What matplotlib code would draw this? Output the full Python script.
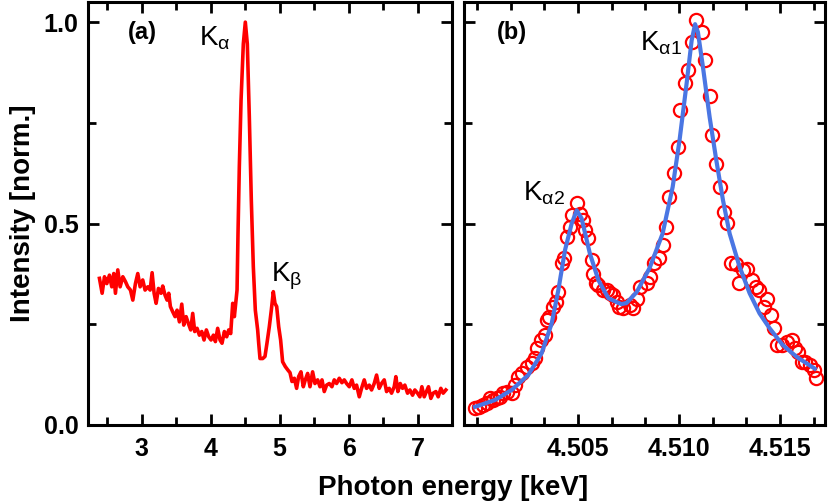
import matplotlib
matplotlib.use("Agg")
import matplotlib.pyplot as plt
from matplotlib.ticker import MultipleLocator, FormatStrFormatter, FixedLocator

plt.rcParams['font.family'] = ['Liberation Sans', 'DejaVu Sans']
plt.rcParams['mathtext.fontset'] = 'custom'
plt.rcParams['mathtext.rm'] = 'Liberation Sans'
plt.rcParams['mathtext.it'] = 'Liberation Sans'
plt.rcParams['mathtext.bf'] = 'Liberation Sans:bold'

# ---------------- panel (a): wide-range spectrum ----------------
energy_a = [2.386, 2.425, 2.459, 2.493, 2.531, 2.565, 2.594, 2.618, 2.652, 2.686,
            2.725, 2.763, 2.797, 2.836, 2.870, 2.908, 2.942, 2.976, 3.014, 3.048,
            3.087, 3.121, 3.150, 3.179, 3.208, 3.242, 3.280, 3.304, 3.338, 3.367,
            3.391, 3.415, 3.449, 3.483, 3.512, 3.546, 3.580, 3.609, 3.643, 3.676,
            3.710, 3.739, 3.768, 3.802, 3.836, 3.870, 3.903, 3.937, 3.971, 4.005,
            4.039, 4.068, 4.101, 4.135, 4.164, 4.198, 4.232, 4.261, 4.290, 4.319,
            4.343, 4.367, 4.382, 4.396, 4.415, 4.440, 4.473, 4.502, 4.531, 4.560,
            4.589, 4.618, 4.647, 4.681, 4.696, 4.715, 4.754, 4.787, 4.816, 4.850,
            4.879, 4.908, 4.932, 4.957, 4.986, 5.014, 5.043, 5.082, 5.121, 5.150,
            5.179, 5.213, 5.246, 5.275, 5.309, 5.343, 5.372, 5.406, 5.440, 5.478,
            5.512, 5.551, 5.585, 5.614, 5.647, 5.681, 5.720, 5.758, 5.792, 5.826,
            5.865, 5.903, 5.937, 5.971, 6.010, 6.048, 6.082, 6.116, 6.155, 6.188,
            6.227, 6.261, 6.300, 6.333, 6.372, 6.406, 6.444, 6.478, 6.517, 6.551,
            6.589, 6.623, 6.662, 6.686, 6.715, 6.749, 6.783, 6.816, 6.855, 6.889,
            6.928, 6.961, 7.000, 7.034, 7.063, 7.097, 7.130, 7.159, 7.193, 7.227,
            7.266, 7.300, 7.338, 7.372, 7.411]
intensity_a = [0.364, 0.327, 0.368, 0.351, 0.372, 0.343, 0.376, 0.327, 0.385, 0.343,
               0.368, 0.356, 0.343, 0.335, 0.310, 0.351, 0.376, 0.343, 0.360, 0.335,
               0.343, 0.335, 0.378, 0.327, 0.302, 0.339, 0.327, 0.345, 0.322, 0.310,
               0.327, 0.294, 0.281, 0.269, 0.285, 0.256, 0.300, 0.248, 0.269, 0.252,
               0.236, 0.277, 0.232, 0.240, 0.223, 0.232, 0.211, 0.236, 0.219, 0.211,
               0.223, 0.207, 0.240, 0.211, 0.203, 0.232, 0.219, 0.236, 0.227, 0.302,
               0.269, 0.310, 0.335, 0.476, 0.641, 0.806, 0.946, 1.000, 0.946, 0.765,
               0.558, 0.393, 0.285, 0.236, 0.203, 0.165, 0.165, 0.170, 0.203, 0.244,
               0.285, 0.331, 0.302, 0.294, 0.244, 0.211, 0.157, 0.145, 0.136, 0.130,
               0.108, 0.116, 0.091, 0.120, 0.132, 0.095, 0.112, 0.128, 0.095, 0.132,
               0.103, 0.112, 0.095, 0.112, 0.083, 0.099, 0.103, 0.095, 0.112, 0.103,
               0.116, 0.105, 0.112, 0.103, 0.095, 0.112, 0.091, 0.099, 0.070, 0.091,
               0.112, 0.091, 0.099, 0.087, 0.103, 0.124, 0.091, 0.103, 0.112, 0.083,
               0.091, 0.079, 0.095, 0.120, 0.083, 0.103, 0.091, 0.099, 0.079, 0.087,
               0.074, 0.087, 0.079, 0.070, 0.095, 0.070, 0.083, 0.095, 0.066, 0.079,
               0.083, 0.070, 0.091, 0.079, 0.087]

# ---------------- panel (b): high-resolution K-alpha ----------------
energy_b = [4.49989, 4.50008, 4.50028, 4.50048, 4.50063, 4.50078, 4.50098, 4.50112,
            4.50127, 4.50147, 4.50172, 4.50187, 4.50202, 4.50221, 4.50246, 4.50271,
            4.50286, 4.50296, 4.50315, 4.50335, 4.50345, 4.50355, 4.50375, 4.50390,
            4.50400, 4.50419, 4.50429, 4.50444, 4.50459, 4.50469, 4.50494, 4.50508,
            4.50523, 4.50533, 4.50548, 4.50568, 4.50573, 4.50588, 4.50598, 4.50622,
            4.50642, 4.50657, 4.50672, 4.50692, 4.50701, 4.50721, 4.50756, 4.50771,
            4.50791, 4.50805, 4.50840, 4.50855, 4.50875, 4.50899, 4.50919, 4.50934,
            4.50949, 4.50974, 4.50994, 4.51003, 4.51028, 4.51043, 4.51063, 4.51083,
            4.51112, 4.51127, 4.51152, 4.51162, 4.51182, 4.51201, 4.51221, 4.51236,
            4.51256, 4.51281, 4.51295, 4.51315, 4.51335, 4.51360, 4.51380, 4.51394,
            4.51419, 4.51434, 4.51454, 4.51469, 4.51484, 4.51508, 4.51533, 4.51558,
            4.51573, 4.51588, 4.51607, 4.51622, 4.51647, 4.51667, 4.51677]
intensity_b = [0.041, 0.044, 0.050, 0.054, 0.066, 0.062, 0.066, 0.070,
               0.079, 0.083, 0.080, 0.099, 0.120, 0.128, 0.145, 0.153,
               0.166, 0.190, 0.211, 0.223, 0.261, 0.269, 0.294, 0.306,
               0.331, 0.401, 0.414, 0.467, 0.491, 0.521, 0.550, 0.525,
               0.509, 0.484, 0.463, 0.409, 0.376, 0.352, 0.347, 0.335,
               0.335, 0.327, 0.323, 0.306, 0.294, 0.290, 0.298, 0.290,
               0.314, 0.343, 0.352, 0.368, 0.401, 0.414, 0.447, 0.492,
               0.567, 0.625, 0.691, 0.782, 0.848, 0.881, 0.951, 1.005,
               0.976, 0.906, 0.816, 0.720, 0.649, 0.591, 0.529, 0.502,
               0.401, 0.400, 0.352, 0.385, 0.386, 0.360, 0.342, 0.335,
               0.294, 0.314, 0.273, 0.241, 0.199, 0.199, 0.207, 0.211,
               0.190, 0.182, 0.157, 0.157, 0.149, 0.136, 0.116]

fit_energy = [4.49990, 4.50089, 4.50172, 4.50254, 4.50320, 4.50370, 4.50403, 4.50436,
              4.50469, 4.50494, 4.50518, 4.50559, 4.50601, 4.50650, 4.50692, 4.50716,
              4.50741, 4.50791, 4.50855, 4.50919, 4.50969, 4.51003, 4.51038, 4.51063,
              4.51080, 4.51094, 4.51119, 4.51152, 4.51185, 4.51218, 4.51251, 4.51300,
              4.51350, 4.51399, 4.51449, 4.51513, 4.51583, 4.51632, 4.51672]
fit_intensity = [0.045, 0.062, 0.087, 0.124, 0.178, 0.252, 0.335, 0.434,
                 0.500, 0.533, 0.513, 0.426, 0.360, 0.315, 0.305, 0.300,
                 0.303, 0.330, 0.390, 0.475, 0.591, 0.707, 0.848, 0.955,
                 0.995, 0.975, 0.888, 0.764, 0.657, 0.558, 0.475, 0.393,
                 0.327, 0.277, 0.240, 0.199, 0.169, 0.153, 0.140]

xticks_b = [4.505, 4.510, 4.515]

fig = plt.figure(figsize=(8.30, 5.03), dpi=100)
ax_a = fig.add_axes([88/830, 78/503, 364/830, 423/503])
ax_b = fig.add_axes([464/830, 78/503, 361/830, 423/503])

ax_a.plot(energy_a, intensity_a, color='#ff0000', lw=2.6, solid_joinstyle='round')
ax_b.plot(energy_b, intensity_b, linestyle='none', marker='o', ms=9.5,
          mfc='none', mec='#ff0000', mew=1.6)
ax_b.plot(fit_energy, fit_intensity, color='#4a76e3', lw=3.0, solid_joinstyle='round')

ax_a.set_xlim(2.22, 7.5)
ax_b.set_xlim(4.49936, 4.51723)

ax_a.xaxis.set_major_locator(MultipleLocator(1))
ax_a.xaxis.set_minor_locator(MultipleLocator(0.5))
ax_a.yaxis.set_major_formatter(FormatStrFormatter('%.1f'))
ax_b.xaxis.set_major_locator(FixedLocator(xticks_b))
ax_b.xaxis.set_minor_locator(MultipleLocator(0.005 / 3))
ax_b.xaxis.set_major_formatter(FormatStrFormatter('%.3f'))

for ax in (ax_a, ax_b):
    ax.set_ylim(0, 1.05)
    for s in ax.spines.values():
        s.set_linewidth(2.2)
    ax.tick_params(which='both', direction='in', top=True, right=True, width=2.0,
                   labelsize=18, pad=9)
    ax.tick_params(which='major', length=8)
    ax.tick_params(which='minor', length=6)
    ax.yaxis.set_major_locator(MultipleLocator(0.5))
    ax.yaxis.set_minor_locator(MultipleLocator(0.25))

ax_a.tick_params(axis='y', pad=7)
ax_b.tick_params(axis='y', labelleft=False)
for ax in (ax_a, ax_b):
    for lab in ax.get_xticklabels() + ax.get_yticklabels():
        lab.set_fontweight('bold')

ax_a.set_ylabel('Intensity [norm.]', fontsize=20, fontweight='bold', labelpad=5)
fig.text(453/830, 1 - 488/503, 'Photon energy [keV]', fontsize=20, fontweight='bold',
         ha='center', va='center')

ax_a.text(3.01, 0.975, '(a)', fontsize=17, fontweight='bold', ha='center', va='center')
ax_b.text(4.50172, 0.975, '(b)', fontsize=17, fontweight='bold', ha='center', va='center')
ax_a.text(3.83, 0.943, r'$\mathregular{K_{α}}$', fontsize=20, ha='left', va='baseline')
ax_a.text(4.87, 0.357, r'$\mathregular{K_{β}}$', fontsize=20, ha='left', va='baseline')
ax_b.text(4.50226, 0.558, r'$\mathregular{K_{α2}}$', fontsize=20, ha='left', va='baseline')
ax_b.text(4.50806, 0.93, r'$\mathregular{K_{α1}}$', fontsize=20, ha='left', va='baseline')

fig.savefig('out.png', dpi=100)
